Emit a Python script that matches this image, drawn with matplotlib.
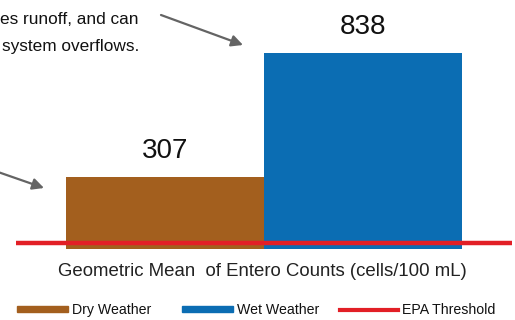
import matplotlib
matplotlib.use("Agg")
import matplotlib.pyplot as plt
from matplotlib.patches import Patch
from matplotlib.lines import Line2D

plt.rcParams['font.family'] = ['Liberation Sans', 'DejaVu Sans']

# geometric mean of entero counts (cells/100 mL)
conditions = ['Dry Weather', 'Wet Weather']
geo_means = [307, 838]
epa_threshold = 24
bar_colors = ['#A35F1E', '#0B6DB3']
threshold_color = '#E21F26'
note_lines = ['es runoff, and can', 'system overflows.']

W, H = 515, 320
fig = plt.figure(figsize=(W / 100, H / 100), dpi=100)


def fx(px):
    return px / W


def fy(py):
    return 1 - py / H


# axes laid out in pixels: bars sit on y=249, line runs 16..512
ax = fig.add_axes([fx(16), fy(249), fx(496), 900 * 0.234 / H])
xs = list(range(len(conditions)))
ax.bar(xs, geo_means, width=1.0, color=bar_colors)
ax.axhline(epa_threshold, color=threshold_color, lw=3.2)
ax.set_xlim(-0.75, 1.75)
ax.set_ylim(0, 900)
ax.axis('off')

for x, v in zip(xs, geo_means):
    ax.annotate(f'{v}', (x, v), xytext=(0, 18.5), textcoords='offset points',
                ha='center', va='center', fontsize=20, color='#111111')

fig.text(fx(262.5), fy(272), 'Geometric Mean  of Entero Counts (cells/100 mL)',
         ha='center', va='center', fontsize=13.4, color='#222222')

# explanatory note next to the wet weather bar
for (px, py), line in zip([(0, 24), (2, 51)], note_lines):
    fig.text(fx(px), fy(py), line, ha='left', va='baseline',
             fontsize=12.4, color='#111111')

arrow_kw = dict(arrowstyle='-|>', color='#646464', lw=1.6, mutation_scale=17,
                shrinkA=0, shrinkB=0)
ax.annotate('', xy=(fx(243), fy(45)), xytext=(fx(161), fy(15)),
            xycoords='figure fraction', textcoords='figure fraction',
            arrowprops=arrow_kw)
ax.annotate('', xy=(fx(44), fy(188)), xytext=(fx(-2), fy(172)),
            xycoords='figure fraction', textcoords='figure fraction',
            arrowprops=arrow_kw)

# one legend entry per slot so each sits where it should
entries = [
    (Patch(color=bar_colors[0], label=conditions[0]), 17, 3.6),
    (Patch(color=bar_colors[1], label=conditions[1]), 182, 3.6),
    (Line2D([], [], color=threshold_color, lw=3, label='EPA Threshold'), 340, 4.1),
]
for handle, px, hlen in entries:
    leg = fig.legend(handles=[handle], loc='center left',
                     bbox_to_anchor=(fx(px), fy(310)), frameon=False,
                     fontsize=10.2, handlelength=hlen, handleheight=0.35,
                     handletextpad=0.25, borderpad=0, borderaxespad=0)
    for t in leg.get_texts():
        t.set_color('#111111')

fig.savefig('out.png', dpi=100)
